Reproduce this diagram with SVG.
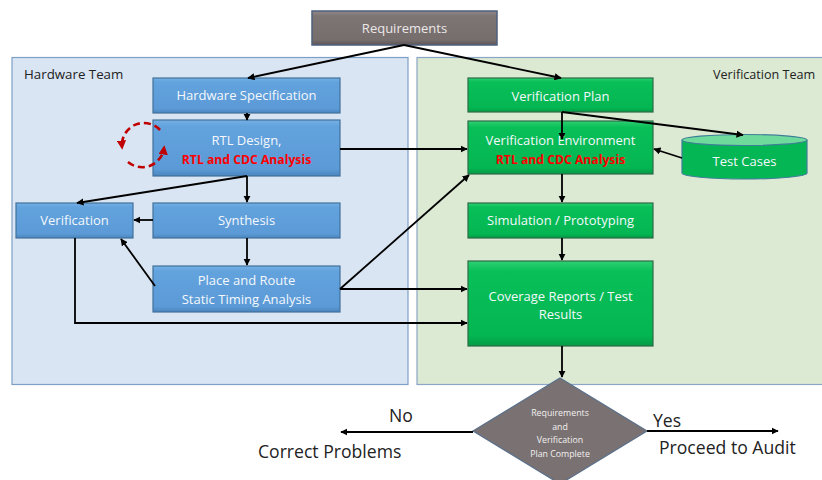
<svg xmlns="http://www.w3.org/2000/svg" width="822" height="480" viewBox="0 0 822 480">
<style>
text{font-family:"Open Sans","Liberation Sans",Arial,sans-serif;}
.bl{fill:url(#gb);stroke:#41719c;stroke-width:1.2;}
.gr{fill:url(#gg);stroke:#2e6b47;stroke-width:1.2;}
.wt{fill:#f4f8fc;font-size:13px;text-anchor:middle;}
.rd{fill:#ff0000;font-size:12.2px;font-weight:bold;text-anchor:middle;}
.cn{fill:none;stroke:#000;stroke-width:1.8;marker-end:url(#ah);}
.lbl{fill:#222;font-size:17.6px;}
.team{fill:#222;font-size:13.3px;}
</style>
<defs>
<linearGradient id="gb" x1="0" y1="0" x2="0" y2="1">
<stop offset="0" stop-color="#74b0e4"/><stop offset="0.12" stop-color="#62a2dd"/><stop offset="0.88" stop-color="#5b9ad6"/><stop offset="1" stop-color="#4a85bd"/>
</linearGradient>
<linearGradient id="gg" x1="0" y1="0" x2="0" y2="1">
<stop offset="0" stop-color="#2fd072"/><stop offset="0.12" stop-color="#08bf58"/><stop offset="0.88" stop-color="#04b652"/><stop offset="1" stop-color="#039a45"/>
</linearGradient>
<linearGradient id="gy" x1="0" y1="0" x2="0" y2="1">
<stop offset="0" stop-color="#918888"/><stop offset="0.15" stop-color="#7d7474"/><stop offset="0.85" stop-color="#766d6d"/><stop offset="1" stop-color="#5e5656"/>
</linearGradient>
<marker id="ah" viewBox="0 0 10 10" refX="9" refY="5" markerWidth="4" markerHeight="4" orient="auto">
<path d="M0,0 L10,5 L0,10 z" fill="#000"/>
</marker>
<marker id="rh" viewBox="0 0 10 10" refX="7" refY="5" markerWidth="3.6" markerHeight="3.6" orient="auto">
<path d="M0,0 L10,5 L0,10 z" fill="#c00000"/>
</marker>
</defs>

<g id="hardware-team">
<rect x="12" y="57.5" width="396" height="327" fill="#d9e5f2" stroke="#7d9fc6" stroke-width="1.2"/>
<text x="24" y="79" class="team">Hardware Team</text>
</g>
<g id="verification-team">
<rect x="417" y="57.5" width="410" height="327" fill="#dce9d3" stroke="#8aa6c4" stroke-width="1.2"/>
<text x="713" y="79" class="team" style="font-size:12.6px">Verification Team</text>
</g>

<g id="requirements">
<rect x="312" y="11" width="185" height="34" fill="url(#gy)" stroke="#4c607e" stroke-width="1.5"/>
<text x="404.5" y="33" class="wt" style="fill:#ece8e8">Requirements</text>
</g>

<g id="hardware-spec">
<rect x="153" y="78" width="187" height="35" class="bl"/>
<text x="246.5" y="100" class="wt">Hardware Specification</text>
</g>
<g id="rtl-design">
<rect x="153" y="120" width="187" height="56" class="bl"/>
<text x="246.5" y="145" class="wt">RTL Design,</text>
<text x="246.5" y="164" class="rd">RTL and CDC Analysis</text>
</g>
<g id="rtl-loop">
<path d="M160,130 A22,22 0 0 0 122,147" fill="none" stroke="#c00000" stroke-width="2.6" stroke-dasharray="7 4" marker-end="url(#rh)"/>
<path d="M128,162 A22,22 0 0 0 164,148" fill="none" stroke="#c00000" stroke-width="2.6" stroke-dasharray="7 4" marker-end="url(#rh)"/>
</g>
<g id="verification">
<rect x="16" y="203" width="117" height="35" class="bl"/>
<text x="74.5" y="225" class="wt">Verification</text>
</g>
<g id="synthesis">
<rect x="153" y="203" width="187" height="35" class="bl"/>
<text x="246.5" y="225" class="wt">Synthesis</text>
</g>
<g id="place-route">
<rect x="153" y="266" width="187" height="46" class="bl"/>
<text x="246.5" y="285" class="wt">Place and Route</text>
<text x="246.5" y="304" class="wt">Static Timing Analysis</text>
</g>

<g id="verification-plan">
<rect x="468" y="78" width="185" height="34" class="gr"/>
<text x="560.5" y="100.5" class="wt">Verification Plan</text>
</g>
<g id="verification-env">
<rect x="468" y="121" width="185" height="53" class="gr"/>
<text x="560.5" y="145" class="wt">Verification Environment</text>
<text x="560.5" y="164" class="rd">RTL and CDC Analysis</text>
</g>
<g id="test-cases">
<path d="M682,140 V173 A62.5,6 0 0 0 807,173 V140" fill="#05b654" stroke="#3f7f98" stroke-width="1.2"/>
<ellipse cx="744.5" cy="140" rx="62.5" ry="5.5" fill="#6edb9c" stroke="#3f7f98" stroke-width="1.2"/>
<text x="744.5" y="166" class="wt">Test Cases</text>
</g>
<g id="simulation">
<rect x="468" y="203" width="185" height="35" class="gr"/>
<text x="560.5" y="225" class="wt">Simulation / Prototyping</text>
</g>
<g id="coverage">
<rect x="468" y="261" width="185" height="85" class="gr"/>
<text x="560.5" y="301" class="wt">Coverage Reports / Test</text>
<text x="560.5" y="319" class="wt">Results</text>
</g>

<g id="decision">
<path d="M560,378 L647,431 L560,484 L473,431 Z" fill="#7a7272" stroke="#5a6f8a" stroke-width="1.2"/>
<g style="font-size:8.8px;fill:#f2f0f0;text-anchor:middle">
<text x="560" y="416">Requirements</text>
<text x="560" y="429.5">and</text>
<text x="560" y="443">Verification</text>
<text x="560" y="456.5">Plan Complete</text>
</g>
</g>

<g id="outcomes">
<text x="389" y="422" class="lbl">No</text>
<text x="258" y="458" class="lbl">Correct Problems</text>
<text x="653" y="427" class="lbl">Yes</text>
<text x="659" y="454" class="lbl">Proceed to Audit</text>
</g>

<g id="connectors">
<path d="M404,45 L248,78" class="cn"/>
<path d="M404,45 L561,78" class="cn"/>
<path d="M247,113 V120" class="cn"/>
<path d="M340,149 H467" class="cn"/>
<path d="M247,176 V202" class="cn"/>
<path d="M247,176 L77,203" class="cn"/>
<path d="M153,220 H134" class="cn"/>
<path d="M247,238 V265" class="cn"/>
<path d="M155,286 L121,239" class="cn"/>
<path d="M340,289 L469,175" class="cn"/>
<path d="M340,289 H467" class="cn"/>
<path d="M75,238 V323 H467" class="cn"/>
<path d="M562,112 V139" class="cn"/>
<path d="M562,112 L743,135" class="cn"/>
<path d="M682,158 L654,149" class="cn"/>
<path d="M562,174 V202" class="cn"/>
<path d="M562,238 V260" class="cn"/>
<path d="M562,346 V377" class="cn"/>
<path d="M473,432 H341" class="cn"/>
<path d="M647,431 H778" class="cn"/>
</g>
</svg>
